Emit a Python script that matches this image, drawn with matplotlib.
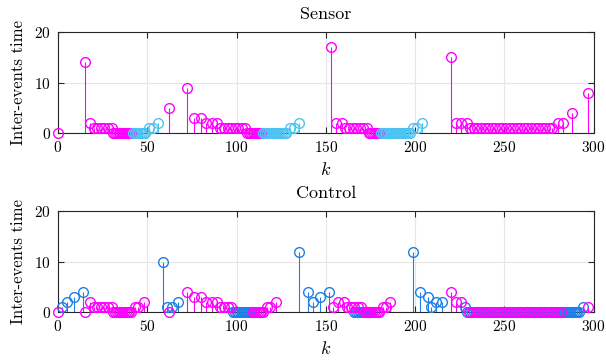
import numpy as np
import matplotlib
matplotlib.use("Agg")
import matplotlib.pyplot as plt

plt.rcParams['font.family'] = 'serif'
plt.rcParams['font.serif'] = ['cmr10']
plt.rcParams['mathtext.fontset'] = 'cm'
plt.rcParams['axes.formatter.use_mathtext'] = True

# ---------------- data ----------------
# Sensor, magenta events
sens_mag_k = [0, 15, 18, 20, 22, 24, 26, 28, 30,
              31, 32, 33, 34, 35, 36, 37, 38, 39, 40, 41,
              62, 72, 76, 80, 83, 86, 89,
              91, 93, 95, 97, 99, 101, 103, 105,
              106, 107, 108, 109, 110, 111, 112, 113, 114,
              153, 156, 159, 161, 163, 165, 167, 169, 171, 173,
              174, 175, 176, 177, 178, 179, 180,
              220, 223, 226, 229,
              231, 233, 235, 237, 239, 241, 243, 245, 247, 249, 251, 253,
              255, 257, 259, 261, 263, 265, 267, 269, 271, 273, 275, 277,
              280, 283, 288, 297]
sens_mag_v = [0, 14, 2, 1, 1, 1, 1, 1, 1,
              0, 0, 0, 0, 0, 0, 0, 0, 0, 0, 0,
              5, 9, 3, 3, 2, 2, 2,
              1, 1, 1, 1, 1, 1, 1, 1,
              0, 0, 0, 0, 0, 0, 0, 0, 0,
              17, 2, 2, 1, 1, 1, 1, 1, 1, 1,
              0, 0, 0, 0, 0, 0, 0,
              15, 2, 2, 2,
              1, 1, 1, 1, 1, 1, 1, 1, 1, 1, 1, 1,
              1, 1, 1, 1, 1, 1, 1, 1, 1, 1, 1, 1,
              2, 2, 4, 8]
# Sensor, cyan events
sens_cyan_k = [42, 43, 44, 45, 46, 47, 48, 49, 51, 53, 56,
               115, 116, 117, 118, 119, 120, 121, 122, 123, 124, 125, 126, 127, 128,
               130, 132, 135,
               181, 182, 183, 184, 185, 186, 187, 188, 189, 190, 191, 192, 193, 194,
               195, 196, 197, 199, 201, 204]
sens_cyan_v = [0, 0, 0, 0, 0, 0, 0, 0, 1, 1, 2,
               0, 0, 0, 0, 0, 0, 0, 0, 0, 0, 0, 0, 0, 0,
               1, 1, 2,
               0, 0, 0, 0, 0, 0, 0, 0, 0, 0, 0, 0, 0, 0,
               0, 0, 0, 1, 1, 2]

# Control, blue events
ctrl_blue_k = [2, 5, 9, 14, 59, 61, 64, 67,
               98, 99, 100, 101, 102, 103, 104, 105, 106, 107, 108,
               135, 140, 143, 147, 152,
               166, 167, 168, 169, 170, 171, 172, 173, 174, 175, 176,
               199, 203, 207, 209, 212, 215, 228,
               229, 231, 233, 235, 237, 239, 241, 243, 245, 247, 249, 251, 253,
               255, 257, 259, 261, 263, 265, 267, 269, 271, 273, 275, 277, 279,
               281, 283, 284, 285, 286, 287, 288, 289, 290, 291, 292,
               294]
ctrl_blue_v = [1, 2, 3, 4, 10, 1, 1, 2,
               0, 0, 0, 0, 0, 0, 0, 0, 0, 0, 0,
               12, 4, 2, 3, 4,
               0, 0, 0, 0, 0, 0, 0, 0, 0, 0, 0,
               12, 4, 3, 1, 2, 2, 1,
               0, 0, 0, 0, 0, 0, 0, 0, 0, 0, 0, 0, 0,
               0, 0, 0, 0, 0, 0, 0, 0, 0, 0, 0, 0, 0,
               0, 0, 0, 0, 0, 0, 0, 0, 0, 0, 0,
               1]
# Control, magenta events
ctrl_mag_k = [0, 15, 18, 20, 22, 24, 26, 28, 30,
              31, 32, 33, 34, 35, 36, 37, 38, 39, 40, 41,
              43, 45, 48, 62, 72, 76, 80, 83, 86, 89,
              91, 93, 95, 97,
              109, 110, 111, 112, 113, 114, 115, 117, 119, 122,
              154, 157, 160, 162, 164, 166, 168, 170,
              172, 173, 174, 175, 176, 177, 178, 179, 180, 182, 184, 186,
              220, 223, 226,
              230, 232, 234, 236, 238, 240, 242, 244, 246, 248, 250, 252, 254,
              256, 258, 260, 262, 264, 266, 268, 270, 272, 274, 276, 278, 280,
              282, 297]
ctrl_mag_v = [0, 0, 2, 1, 1, 1, 1, 1, 1,
              0, 0, 0, 0, 0, 0, 0, 0, 0, 0, 0,
              1, 1, 2, 0, 4, 3, 3, 2, 2, 2,
              1, 1, 1, 1,
              0, 0, 0, 0, 0, 0, 0, 1, 1, 2,
              1, 2, 2, 1, 1, 1, 1, 1,
              0, 0, 0, 0, 0, 0, 0, 0, 0, 1, 1, 2,
              4, 2, 2,
              0, 0, 0, 0, 0, 0, 0, 0, 0, 0, 0, 0, 0,
              0, 0, 0, 0, 0, 0, 0, 0, 0, 0, 0, 0, 0,
              0, 1]

x_ticks = [0, 50, 100, 150, 200, 250, 300]
y_ticks = [0, 10, 20]
titles = ['Sensor', 'Control']

MAG = '#FF00FF'
CYAN = '#4DC3F2'
BLUE = '#1F7FE6'
AXC = '#262626'

fig = plt.figure(figsize=(6.06, 3.60), dpi=100)
ax1 = fig.add_axes([0.0957, 0.6297, 0.8837, 0.2820])
ax2 = fig.add_axes([0.0957, 0.1325, 0.8837, 0.2814])


def draw_stem(ax, k, v, color, z):
    ml, sl, bl = ax.stem(k, v, basefmt=' ')
    ml.set_marker('o')
    ml.set_markersize(7.0)
    ml.set_markerfacecolor('none')
    ml.set_markeredgecolor(color)
    ml.set_markeredgewidth(1.0)
    ml.set_linestyle('none')
    ml.set_clip_on(False)
    ml.set_zorder(z + 0.5)
    sl.set_color(color)
    sl.set_linewidth(0.8)
    sl.set_zorder(z)
    bl.set_visible(False)


draw_stem(ax1, sens_mag_k, sens_mag_v, MAG, 3)
draw_stem(ax1, sens_cyan_k, sens_cyan_v, CYAN, 4)
draw_stem(ax2, ctrl_blue_k, ctrl_blue_v, BLUE, 3)
draw_stem(ax2, ctrl_mag_k, ctrl_mag_v, MAG, 4)

for ax, t in zip([ax1, ax2], titles):
    ax.set_xlim(0, 300)
    ax.set_ylim(0, 20)
    ax.set_xticks(x_ticks)
    ax.set_yticks(y_ticks)
    ax.grid(True, color='#E6E6E6', linewidth=0.8)
    ax.set_axisbelow(True)
    ax.tick_params(direction='in', top=True, right=True, length=4,
                   width=0.8, color=AXC, labelsize=11, pad=5, labelcolor='black')
    for s in ax.spines.values():
        s.set_color(AXC)
        s.set_linewidth(0.8)
    ax.set_title(t, fontsize=13, pad=9)
    ax.set_xlabel(r'$k$', fontsize=13, labelpad=4)
    ax.set_ylabel('Inter-events time', fontsize=12, labelpad=6)

fig.savefig('out.png', dpi=100)
